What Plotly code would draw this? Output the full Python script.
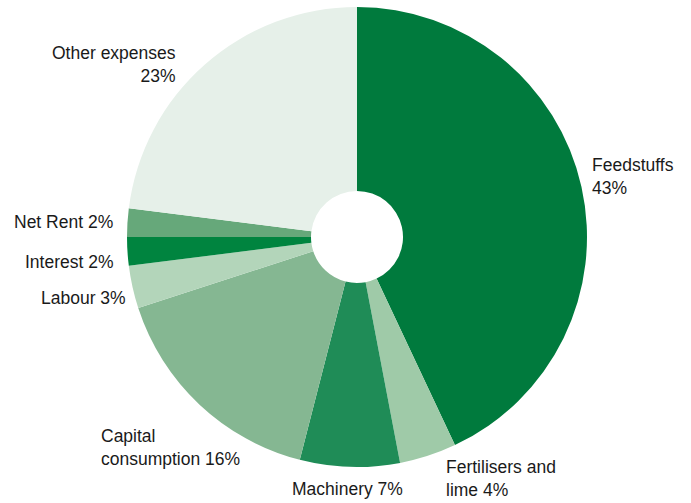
import plotly.graph_objects as go

# Farm cost breakdown (share of total expenses, %)
categories = ["Feedstuffs", "Fertilisers and lime", "Machinery", "Capital consumption",
              "Labour", "Interest", "Net Rent", "Other expenses"]
shares = [43, 4, 7, 16, 3, 2, 2, 23]
colors = ["#007a3d", "#9fcaa8", "#1f8c57", "#85b792",
          "#b3d5ba", "#00843f", "#66a87a", "#e6f0e9"]

W, H = 691, 503

# label text, anchor x/y in pixels, horizontal alignment
labels = [
    ("Feedstuffs<br>43%", 590, 176, "left"),
    ("Fertilisers and<br>lime 4%", 444, 478, "left"),
    ("Machinery 7%", 290, 489, "left"),
    ("Capital<br>consumption 16%", 99, 447, "left"),
    ("Labour 3%", 128, 298, "right"),
    ("Interest 2%", 116, 262, "right"),
    ("Net Rent 2%", 115, 222, "right"),
    ("Other expenses<br>23%", 178, 65, "right"),
]

fig = go.Figure(go.Pie(
    labels=categories,
    values=shares,
    marker=dict(colors=colors, line=dict(width=0)),
    sort=False,
    direction="clockwise",
    rotation=0,
    hole=0.2,
    textinfo="none",
    hoverinfo="label+percent",
    showlegend=False,
    domain=dict(x=[127 / W, 587 / W], y=[1 - 467 / H, 1 - 7 / H]),
))

for text, px, py, align in labels:
    fig.add_annotation(
        text=text, x=px / W, y=1 - py / H, xref="paper", yref="paper",
        xanchor=align, yanchor="middle", align=align, showarrow=False,
        font=dict(family="Liberation Sans, Arial, sans-serif", size=17.5, color="#1a1a1a"),
    )

fig.update_layout(
    width=W, height=H,
    margin=dict(l=0, r=0, t=0, b=0),
    paper_bgcolor="white",
    plot_bgcolor="white",
)

fig.write_html("out.html")
